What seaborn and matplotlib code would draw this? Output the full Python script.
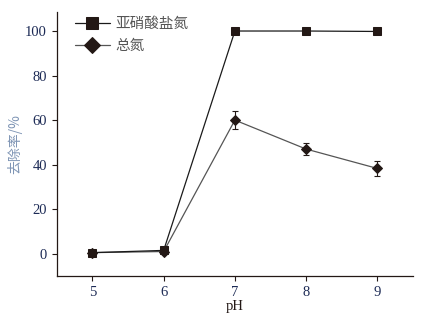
import numpy as np
import pandas as pd
import matplotlib
matplotlib.use("Agg")
import matplotlib.pyplot as plt
import seaborn as sns

sns.set_style("ticks")
plt.rcParams['font.family'] = ['Liberation Serif', 'Noto Sans CJK SC']

# data
ph = [5, 6, 7, 8, 9]
nitrite = [0.5, 1.5, 100, 100, 99.8]
total_n = [0.5, 1.0, 60, 47, 38.3]
total_n_err = [0.5, 0.8, 4.0, 2.5, 3.2]

df = pd.DataFrame({"pH": ph, "nitrite": nitrite, "tn": total_n})

fig, ax = plt.subplots(figsize=(4.37, 3.18), dpi=100)
fig.subplots_adjust(left=0.13, right=0.945, bottom=0.132, top=0.962)

dark = "#231815"

ax.errorbar(ph, total_n, yerr=total_n_err, fmt="none", ecolor=dark,
            elinewidth=0.8, capsize=2.5, capthick=0.8, zorder=2)
sns.lineplot(data=df, x="pH", y="tn", ax=ax, color="#555555", lw=0.9,
             marker="D", markersize=5.5, markerfacecolor=dark,
             markeredgecolor=dark, label="总氮", zorder=3)
sns.lineplot(data=df, x="pH", y="nitrite", ax=ax, color="#1a1a1a", lw=0.9,
             marker="s", markersize=5.5, markerfacecolor=dark,
             markeredgecolor=dark, label="亚硝酸盐氮", zorder=4)

ax.set_xlim(4.5, 9.5)
ax.set_ylim(-10, 108.5)
ax.set_xticks(ph)
ax.set_yticks([0, 20, 40, 60, 80, 100])
ax.tick_params(labelsize=10.5, colors=dark, labelcolor="#1c2a55", width=0.8, length=3.5)
sns.despine(ax=ax)
for s in ["left", "bottom"]:
    ax.spines[s].set_linewidth(0.9)
    ax.spines[s].set_color(dark)

ax.set_xlabel("pH", fontsize=10.5, color=dark, labelpad=1)
ax.set_ylabel("去除率/%", fontsize=10, color="#7f95b5", labelpad=2,
              family=['Noto Sans CJK SC', 'DejaVu Sans'])

h, l = ax.get_legend_handles_labels()
leg = ax.legend(h[::-1], l[::-1], loc="upper left", frameon=False,
                handlelength=2.4, handletextpad=0.4, borderaxespad=0.1,
                markerscale=1.5, labelspacing=0.55, bbox_to_anchor=(0.03, 1.01),
                prop={'family': ['Noto Sans CJK SC'], 'size': 10.5})
for t in leg.get_texts():
    t.set_color("#555555")

fig.savefig("out.png", dpi=100)
